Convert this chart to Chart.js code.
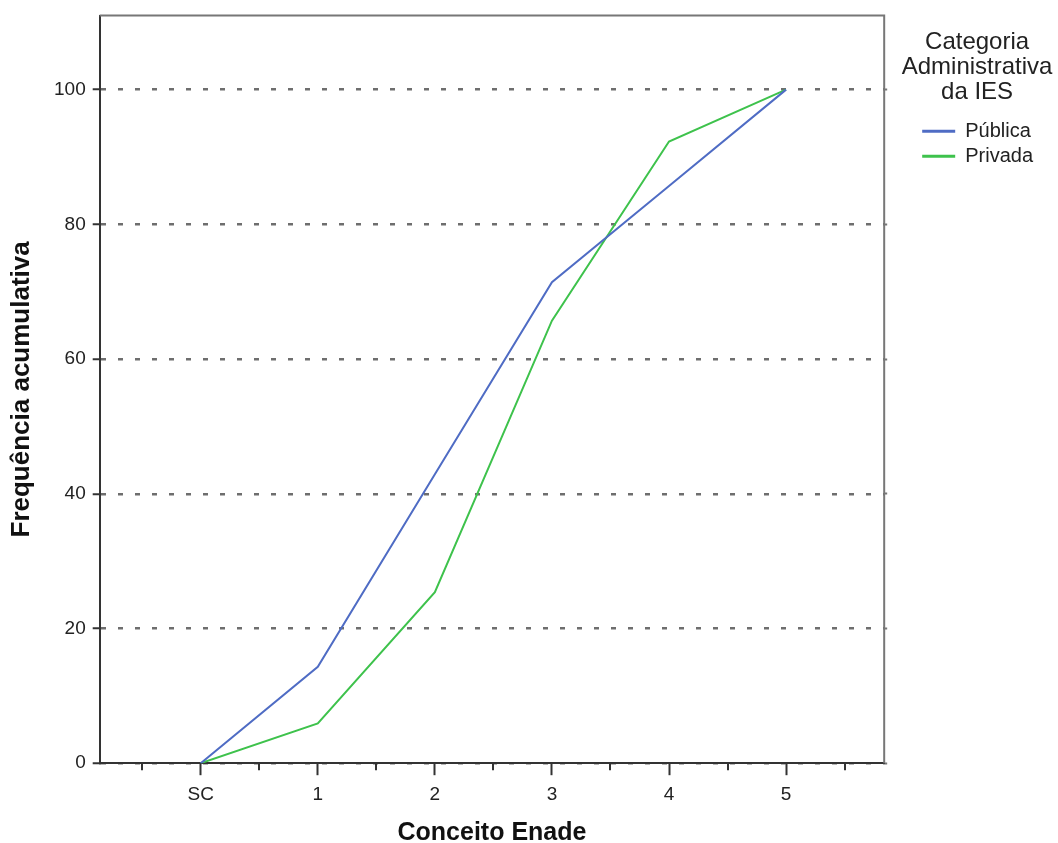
<!DOCTYPE html>
<html>
<head>
<meta charset="utf-8">
<script src="https://cdn.jsdelivr.net/npm/chart.js@4/dist/chart.umd.min.js"></script>
<style>
  body { margin: 0; background: #fff; }
  #wrap { width: 1058px; height: 843px; }
</style>
</head>
<body>
<div id="wrap"><canvas id="myChart" width="1058" height="843"></canvas></div>
<script>
var categories = ["SC", "1", "2", "3", "4", "5"];
var publica = [0, 14.3, 42.9, 71.4, 85.7, 100];
var privada = [0, 5.9, 25.4, 65.7, 92.3, 100];
var yTicks = [0, 20, 40, 60, 80, 100];
var seriesNames = ["Pública", "Privada"];
var legendTitle = ["Categoria", "Administrativa", "da IES"];

var font = "'Liberation Sans', Arial, sans-serif";

function toPoints(values) {
    return values.map((v, i) => ({ x: i, y: v }));
}

// frame round the plot, short ticks between categories
var framePlugin = {
    id: "frame",
    beforeDatasetsDraw(chart) {
        var ctx = chart.ctx;
        var a = chart.chartArea;
        var xs = chart.scales.x;
        ctx.save();
        ctx.strokeStyle = "#777";
        ctx.lineWidth = 2;
        ctx.beginPath();
        ctx.moveTo(a.left, a.top);
        ctx.lineTo(a.right, a.top);
        ctx.lineTo(a.right, a.bottom);
        ctx.stroke();
        ctx.strokeStyle = "#333";
        for (var i = -1; i < categories.length; i++) {
            var px = Math.round(xs.getPixelForValue(i + 0.5));
            ctx.beginPath();
            ctx.moveTo(px, a.bottom);
            ctx.lineTo(px, a.bottom + 7);
            ctx.stroke();
        }
        ctx.restore();
    },
    // legend title on three lines, wider than the legend box
    afterDraw(chart) {
        var lg = chart.legend;
        var ctx = chart.ctx;
        var cx = lg.left + lg.width / 2 - 3;
        ctx.save();
        ctx.fillStyle = "#222";
        ctx.font = "24px " + font;
        ctx.textAlign = "center";
        ctx.textBaseline = "middle";
        legendTitle.forEach((t, i) => {
            ctx.fillText(t, cx, lg.top + 31 + i * 25);
        });
        ctx.restore();
    }
};

var chart = new Chart(document.getElementById("myChart"), {
    type: "line",
    data: {
        datasets: [
            {
                label: seriesNames[0],
                data: toPoints(publica),
                borderColor: "#4f6cc4",
                backgroundColor: "#4f6cc4",
                borderWidth: 2,
                pointRadius: 0,
                tension: 0
            },
            {
                label: seriesNames[1],
                data: toPoints(privada),
                borderColor: "#3ec24c",
                backgroundColor: "#3ec24c",
                borderWidth: 2,
                pointRadius: 0,
                tension: 0
            }
        ]
    },
    options: {
        responsive: false,
        animation: false,
        layout: { padding: { top: 11, right: 15, bottom: 0, left: 9 } },
        plugins: {
            tooltip: { enabled: false },
            legend: {
                position: "right",
                align: "start",
                title: {
                    display: true,
                    text: "",
                    font: { family: font, size: 24, lineHeight: 1.05 },
                    padding: { top: 15, bottom: 65 }
                },
                labels: {
                    boxWidth: 33,
                    boxHeight: 3,
                    padding: 5,
                    color: "#222",
                    font: { family: font, size: 20 },
                    generateLabels(chart) {
                        return Chart.defaults.plugins.legend.labels.generateLabels(chart).map((item) => {
                            item.lineWidth = 0;
                            item.fillStyle = item.strokeStyle;
                            return item;
                        });
                    }
                }
            }
        },
        scales: {
            x: {
                type: "linear",
                min: -0.863,
                max: 5.838,
                afterBuildTicks(scale) {
                    scale.ticks = categories.map((c, i) => ({ value: i }));
                },
                ticks: {
                    autoSkip: false,
                    maxRotation: 0,
                    padding: 8,
                    color: "#222",
                    font: { family: font, size: 19 },
                    callback: (v) => categories[v]
                },
                grid: {
                    drawOnChartArea: false,
                    tickLength: 12,
                    tickWidth: 2,
                    tickColor: "#333"
                },
                border: { color: "#333", width: 2 },
                title: {
                    display: true,
                    text: "Conceito Enade",
                    color: "#111",
                    font: { family: font, size: 25, weight: "bold", lineHeight: 1 },
                    padding: { top: 7, bottom: -3 }
                }
            },
            y: {
                min: 0,
                max: 111,
                afterBuildTicks(scale) {
                    scale.ticks = yTicks.map((v) => ({ value: v }));
                },
                ticks: {
                    padding: 7,
                    color: "#222",
                    font: { family: font, size: 19, lineHeight: 0.9 }
                },
                grid: {
                    color: "#6e6e6e",
                    lineWidth: 2.5,
                    tickLength: 7,
                    tickWidth: 2,
                    tickColor: "#333"
                },
                border: { color: "#333", width: 2, dash: [5, 12] },
                title: {
                    display: true,
                    text: "Frequência acumulativa",
                    color: "#111",
                    font: { family: font, size: 26, weight: "bold", lineHeight: 1 },
                    padding: { top: 0, bottom: 12 }
                }
            },
            y2: {
                position: "right",
                min: 0,
                max: 111,
                afterBuildTicks(scale) {
                    scale.ticks = yTicks.map((v) => ({ value: v }));
                },
                afterFit(scale) {
                    scale.width = 33;
                },
                ticks: { display: false },
                grid: {
                    drawOnChartArea: false,
                    tickLength: 3,
                    tickWidth: 2,
                    tickColor: "#777"
                },
                border: { display: false }
            }
        }
    },
    plugins: [framePlugin]
});
</script>
</body>
</html>
